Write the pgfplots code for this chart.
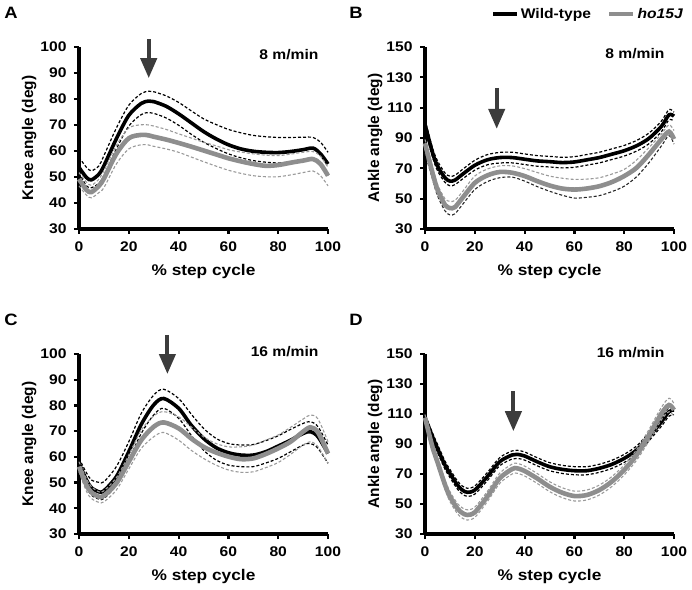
\documentclass[border=0pt]{standalone}
\usepackage{fontspec}
\setmainfont{Liberation Sans}[FakeStretch=1.12]
\newfontfamily\ylabfont{Liberation Sans}
\usepackage{pgfplots}
\pgfplotsset{compat=1.18}
\usepackage{pgfplotstable}
\usetikzlibrary{arrows.meta}

\definecolor{hogray}{HTML}{8E8E8E}
\definecolor{hodash}{HTML}{9A9A9A}
\definecolor{arrowgray}{HTML}{3C3C3C}

\pgfplotstableread{
x wm wu wl hm hu hl
0 53.7 57.6 51.7 49.2 51.7 46.6
3 49.8 53.7 46.6 45.0 48.0 43.0
5 48.9 52.4 45.9 44.2 46.8 42.0
8 51.1 54.3 47.6 46.6 49.2 44.0
10 54.3 58.2 50.5 49.4 52.4 45.9
15 64.7 68.8 60.8 58.9 62.1 55.0
20 73.7 77.6 69.6 64.9 68.8 60.8
25 78.3 82.1 74.0 66.2 70.1 62.4
28 79.2 83.0 74.8 66.0 70.0 62.3
30 79.0 82.8 74.5 65.5 69.6 61.8
35 77.2 81.2 72.7 64.4 68.3 60.8
40 74.3 78.7 69.9 63.1 66.6 59.5
45 70.9 75.5 66.5 61.7 65.0 57.7
50 67.5 72.4 63.4 60.2 63.4 55.9
55 64.7 70.2 61.0 58.7 62.0 54.2
60 62.4 68.3 58.9 57.2 60.5 52.6
65 60.8 67.0 57.4 56.0 59.6 51.4
70 59.9 66.0 56.3 55.0 58.9 50.5
75 59.5 65.5 55.7 54.3 58.4 50.1
80 59.4 65.2 55.4 54.6 58.2 50.1
85 59.8 65.2 55.8 55.5 58.8 50.8
90 60.5 65.3 56.3 56.3 59.5 51.7
94 61.1 65.2 56.7 56.9 59.8 52.3
97 58.9 63.4 54.6 55.0 58.0 50.5
100 55.0 59.5 50.5 50.5 53.7 46.6
}\tabA

\pgfplotstableread{
x wm wu wl hm hu hl
0 99.0 102.0 95.5 86.5 89.0 80.0
3 80.4 83.5 77.5 67.1 71.0 63.0
5 71.6 75.0 68.5 56.0 59.5 52.0
8 63.8 67.0 60.8 46.0 50.0 42.0
10 61.6 64.8 58.5 43.8 48.2 39.3
12 62.2 65.4 59.2 44.4 48.8 40.0
15 66.0 69.2 62.9 50.4 54.5 46.0
20 72.0 75.3 68.8 60.4 64.9 56.0
25 75.6 79.0 72.3 65.3 69.5 61.2
30 77.1 80.5 73.5 67.6 71.6 63.8
35 77.1 80.6 73.6 67.1 71.6 64.2
40 76.0 79.5 72.5 64.9 69.8 61.6
45 74.9 78.4 71.4 61.6 67.3 58.0
50 74.4 77.9 70.9 58.7 64.9 54.9
55 73.8 77.3 70.3 56.7 63.5 52.3
60 74.2 77.7 70.7 56.0 62.7 50.4
65 75.6 79.1 72.1 56.7 62.9 50.9
70 77.1 80.6 73.6 58.2 63.8 52.0
75 79.3 82.8 75.8 60.9 66.2 54.6
80 81.6 85.1 78.1 64.9 69.3 58.2
85 84.9 88.4 81.4 70.4 75.5 64.5
90 89.8 93.3 86.3 79.3 83.8 73.8
95 97.8 101.3 94.3 89.3 92.7 84.9
98 105.3 108.8 102.0 94.2 98.7 91.6
100 104.4 107.0 101.1 89.3 94.9 86.0
}\tabB

\pgfplotstableread{
x wm wu wl hm hu hl
0 57.5 59.4 55.5 56.2 58.1 54.2
3 51.0 53.8 48.3 49.0 51.4 46.6
5 48.0 51.0 45.1 46.2 48.4 43.8
8 46.4 50.1 43.6 44.5 46.4 42.3
10 46.8 50.3 43.8 44.9 46.8 42.5
15 52.3 56.2 49.0 49.7 51.9 47.1
20 62.0 65.9 58.8 58.1 60.7 55.3
25 72.6 76.9 69.1 66.5 70.4 63.3
30 80.2 84.0 76.3 71.7 75.9 67.8
34 82.7 86.3 78.9 73.4 77.6 69.5
40 78.9 82.7 75.0 71.1 75.6 66.5
45 72.4 76.7 68.5 67.2 71.7 62.6
50 67.2 71.1 62.6 63.9 67.8 59.4
55 63.6 67.2 58.8 61.7 65.2 56.8
60 61.6 65.2 56.8 60.1 63.9 54.9
65 60.7 64.6 56.2 59.1 63.9 54.0
70 60.7 64.8 56.2 59.4 64.6 54.2
75 62.0 66.3 57.6 61.1 66.5 55.8
80 64.2 68.2 59.4 63.3 68.5 57.8
85 66.5 70.7 62.0 65.9 71.5 61.0
90 69.1 73.0 64.6 69.8 74.7 64.6
93 69.8 73.7 65.2 71.5 76.3 65.9
96 67.8 71.7 63.3 69.5 74.7 63.9
100 61.3 64.6 57.5 61.3 65.9 57.5
}\tabC

\pgfplotstableread{
x wm wu wl hm hu hl
0 107.6 109.6 105.6 107.6 109.6 105.6
3 94.9 97.4 92.4 88.0 90.8 85.2
5 87.1 89.8 84.4 78.0 81.0 75.0
8 76.0 78.7 73.3 63.0 66.2 59.8
10 70.4 73.1 67.7 55.0 58.3 51.7
13 62.7 65.4 60.0 47.0 50.4 43.6
15 59.3 62.0 56.6 44.0 47.4 40.6
17 57.8 60.5 55.1 42.7 46.1 39.3
20 59.3 62.0 56.6 44.5 47.9 41.1
25 68.2 70.9 65.5 54.9 58.3 51.5
30 78.2 80.9 75.5 67.1 70.5 63.7
35 82.7 85.4 80.0 73.3 76.6 70.0
37 83.1 85.8 80.4 73.8 77.1 70.5
40 82.0 84.7 79.3 72.0 75.3 68.7
45 78.2 80.9 75.5 67.1 70.4 63.8
50 74.9 77.6 72.2 61.6 64.9 58.3
55 73.1 75.8 70.4 57.6 60.9 54.3
60 72.2 74.9 69.5 55.3 58.6 52.0
65 72.2 74.9 69.5 56.0 59.3 52.7
70 73.8 76.5 71.1 59.3 62.6 56.0
75 76.4 79.1 73.7 64.9 68.2 61.6
80 80.4 83.1 77.7 72.7 76.0 69.4
85 86.0 88.7 83.3 82.7 86.2 79.2
90 94.9 97.6 92.2 96.0 99.8 92.2
95 104.9 107.8 102.0 110.4 114.6 106.2
98 111.6 114.6 108.6 116.0 120.5 111.5
100 112.7 115.8 109.6 112.7 117.0 108.4
}\tabD

\pgfplotsset{
 panel/.style={
  width=249bp, height=182bp, scale only axis,
  xmin=0, xmax=100, xtick={0,20,...,100},
  axis x line*=bottom, axis y line*=left,
  axis line style={line width=3.4bp, black, -},
  tick align=outside, major tick length=5bp,
  tick style={line width=2.2bp, black},
  ticklabel style={font=\fontsize{14}{15}\selectfont\bfseries},
  xticklabel style={yshift=-4bp},
  yticklabel style={xshift=-4bp},
  /pgf/number format/assume math mode=true,
  xlabel={\% step cycle},
  xlabel style={font=\fontsize{15.5}{16}\selectfont\bfseries, at={(axis description cs:0.5,-0.235)}, anchor=center},
  ylabel style={font=\ylabfont\fontsize{15.5}{16}\selectfont\bfseries, at={(axis description cs:-0.2,0.5)}, anchor=center},
  clip=false,
 },
 wtm/.style={black, line width=3.6bp, smooth, forget plot},
 wtd/.style={black, line width=1.2bp, dash pattern=on 3bp off 2bp, smooth, forget plot},
 hom/.style={hogray, line width=4.6bp, smooth, forget plot},
 hod/.style={hodash, line width=1.1bp, dash pattern=on 3bp off 2bp, smooth, forget plot},
 hodk/.style={black!85, line width=1.1bp, dash pattern=on 3bp off 2bp, smooth, forget plot},
}
\tikzset{
 downarrow/.style={arrowgray, line width=4bp, -{Triangle[width=16bp,length=20bp]}},
 spd/.style={anchor=east, font=\fontsize{14}{15}\selectfont\bfseries},
 plab/.style={font=\fontsize{16.5}{17}\selectfont\bfseries},
}

\begin{document}
\begin{tikzpicture}
\useasboundingbox (0bp,0bp) rectangle (692bp,590bp);

% Panel A
\begin{axis}[panel, at={(79bp,361bp)}, ymin=30, ymax=100, ytick={30,40,...,100}, ylabel={Knee angle (deg)}]
\addplot[wtd] table[x=x,y=wu]{\tabA};
\addplot[wtd] table[x=x,y=wl]{\tabA};
\addplot[wtm] table[x=x,y=wm]{\tabA};
\addplot[hod] table[x=x,y=hu]{\tabA};
\addplot[hod] table[x=x,y=hl]{\tabA};
\addplot[hom] table[x=x,y=hm]{\tabA};
\draw[downarrow] (axis cs:28,103) -- (axis cs:28,88);
\node[spd] at (axis cs:97.6,96.9) {8 m/min};
\end{axis}

% Panel B
\begin{axis}[panel, at={(425bp,361bp)}, ymin=30, ymax=150, ytick={30,50,...,150}, ylabel={Ankle angle (deg)},
  legend style={at={(rel axis cs:0.655,1.182)}, anchor=center, draw=none, fill=none,
    font=\fontsize{14}{14}\selectfont\bfseries, legend columns=2,
    /tikz/every even column/.append style={column sep=14bp}, inner sep=0pt},
  legend image code/.code={\draw[#1] (0bp,0bp) -- (24bp,0bp);}]
\addlegendimage{black, line width=3.6bp}
\addlegendentry{Wild-type}
\addlegendimage{hogray, line width=4.6bp}
\addlegendentry{\textit{ho15J}}
\addplot[wtd] table[x=x,y=wu]{\tabB};
\addplot[wtd] table[x=x,y=wl]{\tabB};
\addplot[wtm] table[x=x,y=wm]{\tabB};
\addplot[hod] table[x=x,y=hu]{\tabB};
\addplot[hodk] table[x=x,y=hl]{\tabB};
\addplot[hom] table[x=x,y=hm]{\tabB};
\draw[downarrow] (axis cs:28.8,123) -- (axis cs:28.8,96);
\node[spd] at (axis cs:97.6,145.4) {8 m/min};
\end{axis}

% Panel C
\begin{axis}[panel, at={(79bp,56bp)}, height=180bp, ymin=30, ymax=100, ytick={30,40,...,100}, ylabel={Knee angle (deg)}]
\addplot[wtd] table[x=x,y=wu]{\tabC};
\addplot[wtd] table[x=x,y=wl]{\tabC};
\addplot[wtm] table[x=x,y=wm]{\tabC};
\addplot[hod] table[x=x,y=hu]{\tabC};
\addplot[hod] table[x=x,y=hl]{\tabC};
\addplot[hom] table[x=x,y=hm]{\tabC};
\draw[downarrow] (axis cs:35.5,107.4) -- (axis cs:35.5,92.2);
\node[spd] at (axis cs:97.6,100.8) {16 m/min};
\end{axis}

% Panel D
\begin{axis}[panel, at={(425bp,56bp)}, height=180bp, ymin=30, ymax=150, ytick={30,50,...,150}, ylabel={Ankle angle (deg)}]
\addplot[wtd] table[x=x,y=wu]{\tabD};
\addplot[wtd] table[x=x,y=wl]{\tabD};
\addplot[wtm] table[x=x,y=wm]{\tabD};
\addplot[hod] table[x=x,y=hu]{\tabD};
\addplot[hod] table[x=x,y=hl]{\tabD};
\addplot[hom] table[x=x,y=hm]{\tabD};
\draw[downarrow] (axis cs:35.5,125) -- (axis cs:35.5,98.5);
\node[spd] at (axis cs:97.6,151) {16 m/min};
\end{axis}

\node[plab] at (11bp,577bp) {A};
\node[plab] at (356bp,577bp) {B};
\node[plab] at (11bp,270bp) {C};
\node[plab] at (356bp,270bp) {D};
\end{tikzpicture}
\end{document}
